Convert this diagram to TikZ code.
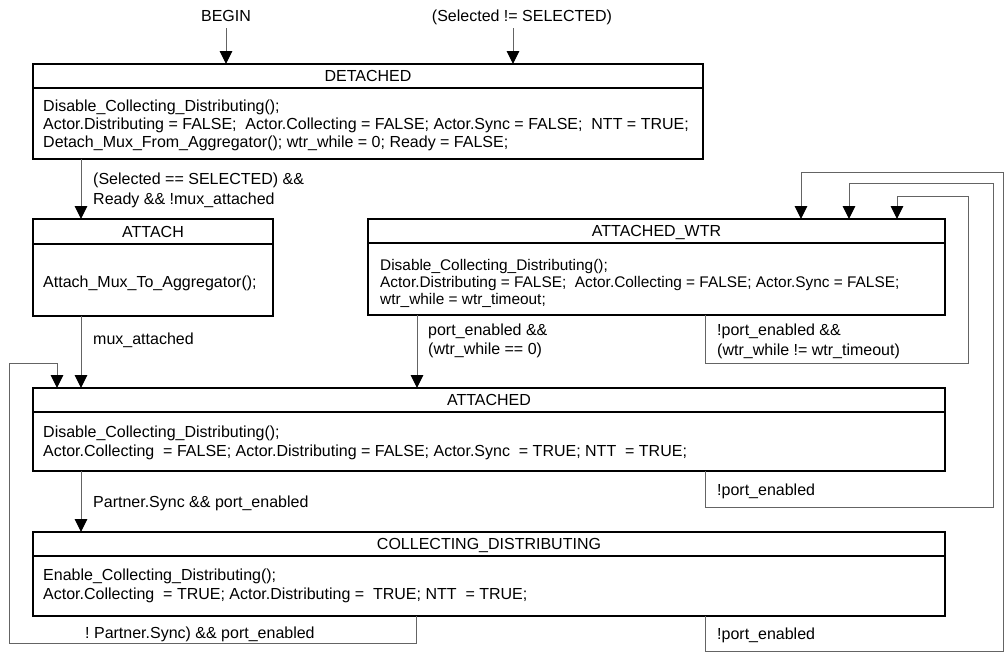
\documentclass[tikz,border=0pt]{standalone}
\usepackage{fontspec}
\setmainfont{Liberation Sans}
\frenchspacing
\usetikzlibrary{arrows.meta}
\definecolor{linegray}{RGB}{100,100,100}
\begin{document}
\frenchspacing
\begin{tikzpicture}[x=1pt,y=-1pt,
  statebox/.style={draw=black, line width=1.5pt, inner sep=0pt, outer sep=0pt},
  divider/.style={draw=black, line width=1.5pt},
  title/.style={inner sep=0pt, text height=11.5pt, text depth=0pt, font=\fontsize{16}{18}\selectfont},
  body/.style={inner sep=0pt, anchor=west, align=left, font=\fontsize{16}{18}\selectfont},
  bodywide/.style={body, font=\fontsize{16}{19}\selectfont},
  wtrbody/.style={body, font=\fontsize{15.4}{17}\selectfont},
  lbl/.style={inner sep=0pt, anchor=west, align=left, font=\fontsize{16}{19.5}\selectfont},
  entry/.style={inner xsep=0pt, inner ysep=6.75pt, text height=11.5pt, text depth=0pt, font=\fontsize{16}{18}\selectfont},
  conn/.style={draw=linegray, line width=1pt, -{Triangle[length=13pt,width=12.5pt,color=black,fill=black]}},
]
\fill[white] (0,0) rectangle (1005,654);
\useasboundingbox (0,0) rectangle (1005,654);

% entry labels
\node[entry] (begin) at (226,15.5) {BEGIN};
\node[entry] (sel) at (522,15.5) {(Selected != SELECTED)};

% DETACHED
\node[statebox, minimum width=670pt, minimum height=95pt] (det) at (368,111.5) {};
\draw[divider] ([yshift=-24pt]det.north west) -- ([yshift=-24pt]det.north east);
\node[title] (detT) at ([yshift=-12pt]det.north) {DETACHED};
\node[body] (detB) at (43,125.5) {Disable\_Collecting\_Distributing();\\Actor.Distributing = FALSE;\ \ Actor.Collecting = FALSE; Actor.Sync = FALSE;\ \ NTT = TRUE;\\Detach\_Mux\_From\_Aggregator(); wtr\_while = 0; Ready = FALSE;};

% ATTACH
\node[statebox, minimum width=240pt, minimum height=97pt] (att) at (153,267.5) {};
\draw[divider] ([yshift=-25pt]att.north west) -- ([yshift=-25pt]att.north east);
\node[title] (attT) at ([yshift=-12.5pt]att.north) {ATTACH};
\node[body] (attB) at (43,283.5) {Attach\_Mux\_To\_Aggregator();};

% ATTACHED_WTR
\node[statebox, minimum width=577pt, minimum height=96pt] (wtr) at (656.5,267) {};
\draw[divider] ([yshift=-24pt]wtr.north west) -- ([yshift=-24pt]wtr.north east);
\node[title] (wtrT) at ([yshift=-12pt]wtr.north) {ATTACHED\_WTR};
\node[wtrbody] (wtrB) at (380,283.5) {Disable\_Collecting\_Distributing();\\Actor.Distributing = FALSE;\ \ Actor.Collecting = FALSE; Actor.Sync = FALSE;\\wtr\_while = wtr\_timeout;};

% ATTACHED
\node[statebox, minimum width=912pt, minimum height=83pt] (atd) at (489,429.5) {};
\draw[divider] ([yshift=-24pt]atd.north west) -- ([yshift=-24pt]atd.north east);
\node[title] (atdT) at ([yshift=-12pt]atd.north) {ATTACHED};
\node[bodywide] (atdB) at (43,443) {Disable\_Collecting\_Distributing();\\Actor.Collecting\ \ = FALSE; Actor.Distributing = FALSE; Actor.Sync\ \ = TRUE; NTT\ \ = TRUE;};

% COLLECTING_DISTRIBUTING
\node[statebox, minimum width=912pt, minimum height=84pt] (cd) at (489,574) {};
\draw[divider] ([yshift=-24pt]cd.north west) -- ([yshift=-24pt]cd.north east);
\node[title] (cdT) at ([yshift=-12pt]cd.north) {COLLECTING\_DISTRIBUTING};
\node[bodywide] (cdB) at (43,586) {Enable\_Collecting\_Distributing();\\Actor.Collecting\ \ = TRUE; Actor.Distributing =\ \ TRUE; NTT\ \ = TRUE;};

% entry arrows
\draw[conn] (begin.south) -- (begin.south |- det.north);
\coordinate (selA) at ([xshift=-9pt]sel.south);
\draw[conn] (selA) -- (selA |- det.north);

% DETACHED -> ATTACH
\draw[conn] ([xshift=48pt]det.south west) -- ([xshift=48pt]att.north west);
\node[lbl] (l1) at (93,190.5) {(Selected == SELECTED) \&\&\\Ready \&\& !mux\_attached};

% ATTACH -> ATTACHED
\draw[conn] ([xshift=48pt]att.south west) -- ([xshift=48pt]atd.north west);
\node[lbl] (l2) at (93,340.5) {mux\_attached};

% ATTACHED_WTR -> ATTACHED
\coordinate (wA) at ([xshift=49pt]wtr.south west);
\draw[conn] (wA) -- (wA |- atd.north);
\node[lbl] (l3) at (428,341) {port\_enabled \&\&\\(wtr\_while == 0)};

% COLLECTING_DISTRIBUTING -> ATTACHED (left loop)
\coordinate (lb) at (9,643);
\coordinate (lt) at (9,363);
\draw[conn] ([xshift=383pt]cd.south west) |- (lb) -- (lt) -| ([xshift=24pt]atd.north west);
\node[lbl] (l4) at (85,634.5) {! Partner.Sync) \&\& port\_enabled};

% ATTACHED_WTR self loop
\coordinate (r3b) at (968,363);
\coordinate (r3t) at (968,196);
\draw[conn] ([xshift=337pt]wtr.south west) |- (r3b) -- (r3t) -| ([xshift=529pt]wtr.north west);
\node[lbl] (l5) at (717,341.5) {!port\_enabled \&\&\\(wtr\_while != wtr\_timeout)};

% ATTACHED -> ATTACHED_WTR
\coordinate (r2b) at (993,507);
\coordinate (r2t) at (993,183);
\draw[conn] ([xshift=672pt]atd.south west) |- (r2b) -- (r2t) -| ([xshift=481pt]wtr.north west);
\node[lbl] (l6) at (717,491.5) {!port\_enabled};

% COLLECTING_DISTRIBUTING -> ATTACHED_WTR
\coordinate (r1b) at (1003,651);
\coordinate (r1t) at (1003,172);
\draw[conn] ([xshift=672pt]cd.south west) |- (r1b) -- (r1t) -| ([xshift=433pt]wtr.north west);
\node[lbl] (l7) at (717,635.5) {!port\_enabled};

% ATTACHED -> COLLECTING_DISTRIBUTING
\draw[conn] ([xshift=48pt]atd.south west) -- ([xshift=48pt]cd.north west);
\node[lbl] (l8) at (93,503.5) {Partner.Sync \&\& port\_enabled};
\end{tikzpicture}
\end{document}
